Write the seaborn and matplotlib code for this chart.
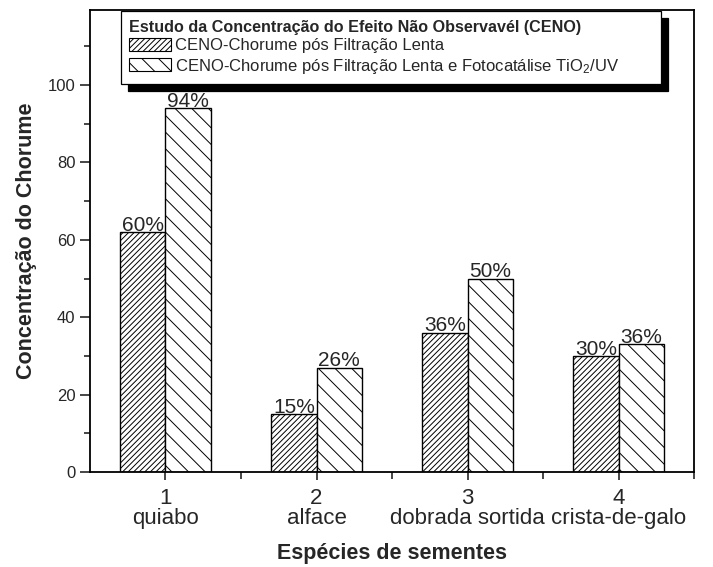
import matplotlib
matplotlib.use("Agg")
import matplotlib.pyplot as plt
import numpy as np
import pandas as pd
import seaborn as sns
from matplotlib.patches import Patch
from matplotlib.ticker import MultipleLocator, FixedLocator

especies = ["1\nquiabo", "2\nalface", "3\ndobrada sortida", "4\ncrista-de-galo"]
serie_lenta = "CENO-Chorume pós Filtração Lenta"
serie_foto = "CENO-Chorume pós Filtração Lenta e Fotocatálise TiO$_2$/UV"
conc_lenta = [62, 15, 36, 30]
conc_foto = [94, 27, 50, 33]
rotulos_lenta = ["60%", "15%", "36%", "30%"]
rotulos_foto = ["94%", "26%", "50%", "36%"]

df = pd.DataFrame({
    "especie": especies * 2,
    "conc": conc_lenta + conc_foto,
    "serie": [serie_lenta] * 4 + [serie_foto] * 4,
})

sns.set_style("ticks")
plt.rcParams["font.family"] = ["Liberation Sans", "DejaVu Sans"]
plt.rcParams["mathtext.default"] = "regular"
plt.rcParams["hatch.linewidth"] = 0.7

fig = plt.figure(figsize=(7.13, 5.67), dpi=100)
ax = fig.add_axes([0.1262, 0.1675, 0.8472, 0.8149])

sns.barplot(data=df, x="especie", y="conc", hue="serie", width=0.6,
            palette=["white", "white"], edgecolor="black", linewidth=1.0,
            saturation=1, legend=False, ax=ax)

# hachuras: fina para filtração lenta, larga para fotocatálise
hatches = ["//////", "\\\\"]
for cont, h, rot in zip(ax.containers, hatches, [rotulos_lenta, rotulos_foto]):
    for bar in cont:
        bar.set_hatch(h)
    ax.bar_label(cont, labels=rot, padding=-2, fontsize=15)

ax.set_xlim(-0.5, 3.5)
ax.set_ylim(0, 119.4)
ax.yaxis.set_major_locator(MultipleLocator(20))
ax.yaxis.set_minor_locator(MultipleLocator(10))
ax.xaxis.set_minor_locator(FixedLocator([0.5, 1.5, 2.5, 3.5]))

ax.tick_params(axis="x", which="major", direction="inout", length=11,
               width=1.2, labelsize=16, pad=6)
ax.tick_params(axis="x", which="minor", direction="out", length=5, width=1.2)
ax.tick_params(axis="y", which="major", direction="out", length=7,
               width=1.2, labelsize=12)
ax.tick_params(axis="y", which="minor", direction="out", length=4, width=1.2)
for lab in ax.get_xticklabels():
    lab.set_linespacing(0.92)

for s in ax.spines.values():
    s.set_visible(True)
    s.set_linewidth(1.3)
    s.set_color("black")

ax.set_xlabel("Espécies de sementes", fontsize=15.5, fontweight="bold", labelpad=10)
ax.set_ylabel("Concentração do Chorume", fontsize=15.5, fontweight="bold", labelpad=8)

handles = [Patch(facecolor="white", edgecolor="black", hatch=hatches[0], linewidth=0.8),
           Patch(facecolor="white", edgecolor="black", hatch=hatches[1], linewidth=0.8)]
leg = ax.legend(handles, [serie_lenta, serie_foto],
                title="Estudo da Concentração do Efeito Não Observavél (CENO)",
                title_fontproperties={"weight": "bold", "size": 11.6},
                fontsize=12, loc="upper left", mode="expand",
                bbox_to_anchor=(0.051, 0.0, 0.894, 0.997), borderaxespad=0,
                alignment="left", fancybox=False, frameon=True,
                edgecolor="black", framealpha=1, handlelength=2.5,
                handleheight=0.8, handletextpad=0.25, labelspacing=0.2,
                borderpad=0.5,
                shadow={"ox": 5, "oy": -5, "color": "black", "alpha": 1})
leg.get_frame().set_linewidth(0.9)

fig.savefig("out.png", dpi=100)
